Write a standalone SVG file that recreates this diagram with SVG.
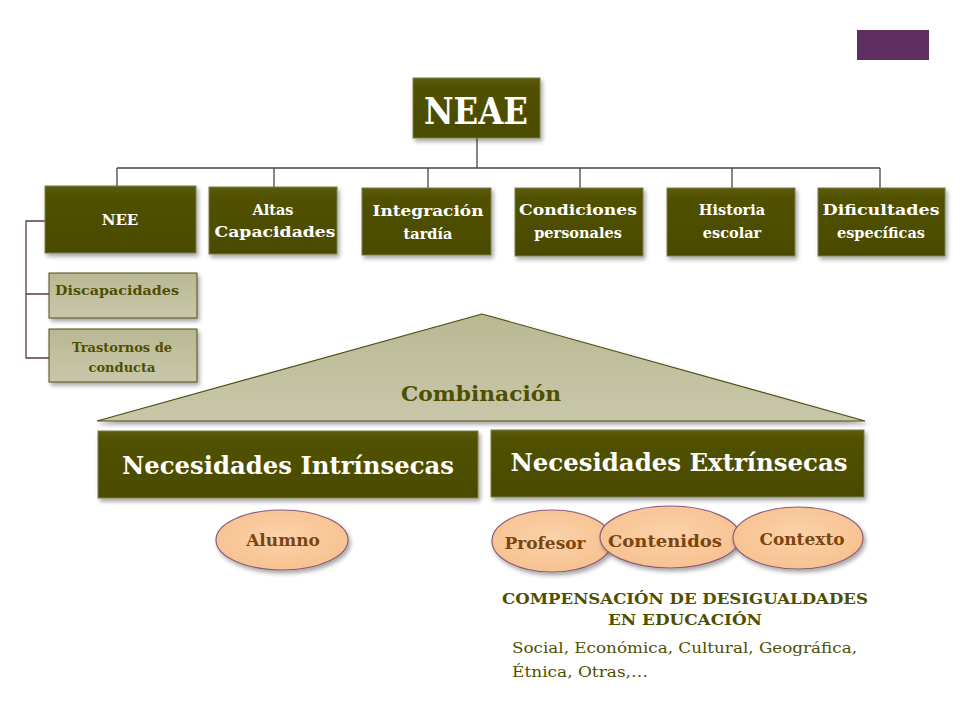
<svg xmlns="http://www.w3.org/2000/svg" width="960" height="720" viewBox="0 0 960 720">
<defs>
<linearGradient id="olive" x1="0" y1="0" x2="0" y2="1">
<stop offset="0" stop-color="#5c5c10"/>
<stop offset="0.15" stop-color="#515100"/>
<stop offset="1" stop-color="#4b4b00"/>
</linearGradient>
<linearGradient id="khaki" x1="0" y1="0" x2="0" y2="1">
<stop offset="0" stop-color="#b9b894"/>
<stop offset="1" stop-color="#c8c7aa"/>
</linearGradient>
<radialGradient id="peach" cx="0.5" cy="0.45" r="0.6">
<stop offset="0" stop-color="#fbd2aa"/>
<stop offset="1" stop-color="#f7c08e"/>
</radialGradient>
<filter id="sh" x="-10%" y="-10%" width="130%" height="140%">
<feDropShadow dx="2" dy="3" stdDeviation="2" flood-color="#000" flood-opacity="0.35"/>
</filter>
</defs>
<style>
.ob{fill:url(#olive);stroke:#7d7d4a;stroke-width:1;filter:url(#sh)}
.lb{fill:url(#khaki);stroke:#4f4f10;stroke-width:1;filter:url(#sh)}
.el{fill:url(#peach);stroke:#8c5c7c;stroke-width:1.2;filter:url(#sh)}
.wt{font-family:"DejaVu Serif","Liberation Serif",serif;font-weight:bold;fill:#ffffff;text-anchor:middle}
.dt{font-family:"DejaVu Serif","Liberation Serif",serif;font-weight:bold;fill:#4f4f00}
.bt{font-family:"DejaVu Serif","Liberation Serif",serif;font-weight:bold;fill:#7a4510;text-anchor:middle}
.ln{fill:none;stroke:#4d4545;stroke-width:1.3}
.br{fill:none;stroke:#5a3a50;stroke-width:1.3}
</style>
<rect width="960" height="720" fill="#ffffff"/>
<rect x="857" y="30" width="72" height="30" fill="#5f2d60"/>

<g id="connectors">
<path class="ln" d="M477 138 V168 M117 168 H880 M117 168 V186 M274 168 V187 M428 168 V188 M580 168 V188 M732 168 V188 M880 168 V188"/>
<path class="br" d="M45 221 H26 V358 H49 M26 294 H49"/>
</g>

<g id="neae">
<rect class="ob" x="413" y="78" width="127" height="60"/>
<text class="wt" x="476" y="124" font-size="38" textLength="104" lengthAdjust="spacingAndGlyphs">NEAE</text>
</g>

<g id="nee">
<rect class="ob" x="45" y="186" width="151" height="67"/>
<text class="wt" x="120" y="225" font-size="15">NEE</text>
</g>
<g id="altas">
<rect class="ob" x="209" y="187" width="128" height="67"/>
<text class="wt" x="273" y="215" font-size="14.5">Altas</text>
<text class="wt" x="275" y="237" font-size="14.5" textLength="121" lengthAdjust="spacingAndGlyphs">Capacidades</text>
</g>
<g id="integracion">
<rect class="ob" x="362" y="188" width="129" height="67"/>
<text class="wt" x="428" y="216" font-size="14.5" textLength="111" lengthAdjust="spacingAndGlyphs">Integración</text>
<text class="wt" x="428" y="239" font-size="14.5">tardía</text>
</g>
<g id="condiciones">
<rect class="ob" x="515" y="188" width="128" height="68"/>
<text class="wt" x="578" y="215" font-size="14.5" textLength="118" lengthAdjust="spacingAndGlyphs">Condiciones</text>
<text class="wt" x="578" y="238" font-size="14.5">personales</text>
</g>
<g id="historia">
<rect class="ob" x="667" y="188" width="128" height="68"/>
<text class="wt" x="732" y="215" font-size="14.5">Historia</text>
<text class="wt" x="732" y="238" font-size="14.5">escolar</text>
</g>
<g id="dificultades">
<rect class="ob" x="818" y="188" width="127" height="68"/>
<text class="wt" x="881" y="215" font-size="14.5" textLength="117" lengthAdjust="spacingAndGlyphs">Dificultades</text>
<text class="wt" x="881" y="238" font-size="14.5">específicas</text>
</g>

<g id="discapacidades">
<rect class="lb" x="49" y="273" width="148" height="45"/>
<text class="dt" x="55" y="295" font-size="13" textLength="124" lengthAdjust="spacingAndGlyphs">Discapacidades</text>
</g>
<g id="trastornos">
<rect class="lb" x="49" y="329" width="148" height="53"/>
<text class="dt" x="122" y="352" font-size="13" text-anchor="middle">Trastornos de</text>
<text class="dt" x="122" y="372" font-size="13" text-anchor="middle">conducta</text>
</g>

<g id="combinacion">
<polygon points="482,314 97,421 865,421" fill="url(#khaki)" stroke="#4f4f10" stroke-width="1.2" filter="url(#sh)"/>
<text class="dt" x="481" y="401" font-size="20" text-anchor="middle" textLength="160" lengthAdjust="spacingAndGlyphs">Combinación</text>
</g>

<g id="intrinsecas">
<rect class="ob" x="98" y="431" width="380" height="67"/>
<text class="wt" x="288" y="474" font-size="24" textLength="332" lengthAdjust="spacingAndGlyphs">Necesidades Intrínsecas</text>
</g>
<g id="extrinsecas">
<rect class="ob" x="491" y="430" width="373" height="67"/>
<text class="wt" x="679" y="471" font-size="24" textLength="337" lengthAdjust="spacingAndGlyphs">Necesidades Extrínsecas</text>
</g>

<g id="alumno">
<ellipse class="el" cx="282" cy="540" rx="66" ry="30"/>
<text class="bt" x="283" y="546" font-size="17">Alumno</text>
</g>
<g id="profesor">
<ellipse class="el" cx="552" cy="541" rx="60" ry="31"/>
<text class="bt" x="545" y="549" font-size="17">Profesor</text>
</g>
<g id="contenidos">
<ellipse class="el" cx="670" cy="537" rx="70" ry="31"/>
<text class="bt" x="665" y="547" font-size="17" textLength="114" lengthAdjust="spacingAndGlyphs">Contenidos</text>
</g>
<g id="contexto">
<ellipse class="el" cx="798" cy="538" rx="65" ry="31"/>
<text class="bt" x="802" y="545" font-size="17">Contexto</text>
</g>

<g id="compensacion">
<text class="dt" x="685" y="604" font-size="15" text-anchor="middle" textLength="366" lengthAdjust="spacingAndGlyphs">COMPENSACIÓN DE DESIGUALDADES</text>
<text class="dt" x="685" y="625" font-size="15" text-anchor="middle" textLength="154" lengthAdjust="spacingAndGlyphs">EN EDUCACIÓN</text>
<text x="512" y="653" font-size="15" fill="#4f4f00" font-family="DejaVu Serif, Liberation Serif, serif" textLength="345" lengthAdjust="spacingAndGlyphs">Social, Económica, Cultural, Geográfica,</text>
<text x="512" y="677" font-size="15" fill="#4f4f00" font-family="DejaVu Serif, Liberation Serif, serif" textLength="136" lengthAdjust="spacingAndGlyphs">Étnica, Otras,…</text>
</g>
</svg>
